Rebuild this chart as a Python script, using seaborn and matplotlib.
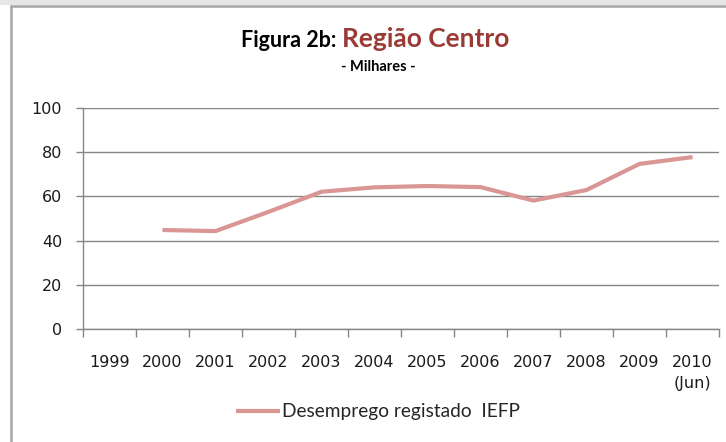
import numpy as np
import pandas as pd
import matplotlib
matplotlib.use("Agg")
import matplotlib.pyplot as plt
from matplotlib.lines import Line2D
from matplotlib.patches import Rectangle
import seaborn as sns

# data (milhares)
years = ["1999", "2000", "2001", "2002", "2003", "2004", "2005",
         "2006", "2007", "2008", "2009", "2010\n(Jun)"]
desemprego = [np.nan, 44.8, 44.3, 53.0, 62.1, 64.1, 64.7,
              64.2, 58.1, 62.9, 74.7, 77.8]
y_ticks = [0, 20, 40, 60, 80, 100]

series_name = "Desemprego registado  IEFP"
line_color = "#d99694"
grid_color = "#868686"
title_red = "#9b3b36"

sns.set_theme(style="white")
plt.rcParams["font.family"] = ["DejaVu Sans"]

df = pd.DataFrame({"pos": np.arange(len(years)), "valor": desemprego})

fig = plt.figure(figsize=(7.26, 4.42), dpi=100)
ax = fig.add_axes([83 / 726, 1 - 329 / 442, (719 - 83) / 726, (329 - 108) / 442])

sns.lineplot(data=df, x="pos", y="valor", ax=ax, color=line_color,
             linewidth=3.0, label=series_name, solid_capstyle="butt")

# axes look (Excel 2007 style)
ax.set_ylim(0, 100)
ax.set_xlim(-0.5, len(years) - 0.5)
ax.set_yticks(y_ticks)
ax.set_xticks(np.arange(len(years)))
ax.set_xticklabels(years)
ax.set_xticks(np.arange(len(years) + 1) - 0.5, minor=True)
ax.set_xlabel("")
ax.set_ylabel("")
ax.grid(axis="y", color=grid_color, linewidth=1.0)
ax.grid(axis="x", visible=False)
ax.set_axisbelow(True)
for side in ["top", "right"]:
    ax.spines[side].set_visible(False)
for side in ["left", "bottom"]:
    ax.spines[side].set_color(grid_color)
    ax.spines[side].set_linewidth(1.0)
ax.tick_params(axis="y", which="major", left=True, length=5, width=1,
               color=grid_color, pad=10, labelsize=11.5, labelcolor="#1a1a1a")
ax.tick_params(axis="x", which="major", bottom=False, length=0, pad=19,
               labelsize=11.5, labelcolor="#1a1a1a")
ax.tick_params(axis="x", which="minor", bottom=True, length=6, width=1,
               color=grid_color)
for lab in ax.get_xticklabels():
    lab.set_verticalalignment("top")
    lab.set_linespacing(1.45)

# legend below the plot
ax.legend(loc="center", bbox_to_anchor=(378 / 726, 1 - 412 / 442),
          bbox_transform=fig.transFigure, frameon=False,
          handlelength=2.3, handletextpad=0.15,
          prop={"family": "Lato", "size": 13.8})

# title in two colours + subtitle
fig.text(342 / 726, 1 - 47 / 442, "Figura 2b: ", ha="right", va="baseline",
         fontsize=15.5, fontweight="bold", family="Lato", color="black")
fig.text(342 / 726, 1 - 47 / 442, "Região Centro", ha="left", va="baseline",
         fontsize=19, fontweight="bold", family="Lato", color=title_red)
fig.text(378 / 726, 1 - 71 / 442, "- Milhares -", ha="center", va="baseline",
         fontsize=10.5, fontweight="bold", family="Lato", color="black")

# chart-area frame from the screenshot
fig.add_artist(Rectangle((0, 1 - 5 / 442), 1, 5 / 442, transform=fig.transFigure,
                         facecolor="#e6e6e6", edgecolor="none"))
fig.add_artist(Line2D([11 / 726, 11 / 726], [0, 1 - 6 / 442], transform=fig.transFigure,
                      color="#a6a6a6", linewidth=1.8))
fig.add_artist(Line2D([11 / 726, 1], [1 - 6 / 442, 1 - 6 / 442], transform=fig.transFigure,
                      color="#a6a6a6", linewidth=1.8))

fig.savefig("out.png", dpi=100)
